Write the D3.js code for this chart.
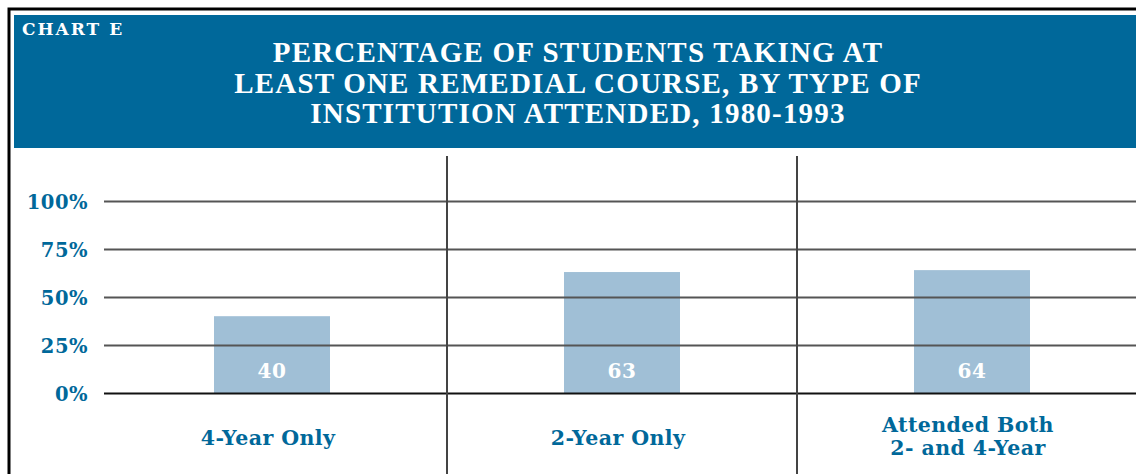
<!DOCTYPE html>
<html>
<head>
<meta charset="utf-8">
<script src="https://cdn.jsdelivr.net/npm/d3@7"></script>
<style>
  body { margin: 0; background: #fff; }
  svg { display: block; }
</style>
</head>
<body>
<div id="chart"></div>
<script>
"use strict"
// Data
var categories = ["4-Year Only", "2-Year Only", "Attended Both\n2- and 4-Year"];
var values = [40, 63, 64];
var yTicks = [0, 25, 50, 75, 100];
var chartLabel = "CHART E";
var titleLines = [
    "PERCENTAGE OF STUDENTS TAKING AT",
    "LEAST ONE REMEDIAL COURSE, BY TYPE OF",
    "INSTITUTION ATTENDED, 1980-1993"
];

var width = 1136;
var height = 474;
var blue = "#00689a";
var barColor = "#a0bfd6";
var serifWide = "'DejaVu Serif', serif";
var serifTitle = "'Liberation Serif', 'Times New Roman', serif";

var svg = d3.select("#chart").append("svg")
    .attr("width", width)
    .attr("height", height);

// Header band
svg.append("rect")
    .attr("x", 14).attr("y", 15)
    .attr("width", width - 14).attr("height", 133)
    .attr("fill", blue);

svg.append("text")
    .attr("x", 22).attr("y", 35)
    .attr("fill", "#fff")
    .style("font-family", serifWide)
    .style("font-weight", "bold")
    .style("font-size", "17px")
    .style("letter-spacing", "2px")
    .text(chartLabel);

svg.selectAll(".title").data(titleLines).enter()
    .append("text").attr("class", "title")
    .attr("x", 578)
    .attr("y", function (d, i) { return 62 + i * 30.5 })
    .attr("text-anchor", "middle")
    .attr("fill", "#fff")
    .style("font-family", serifTitle)
    .style("font-weight", "bold")
    .style("font-size", "29px")
    .style("letter-spacing", "1.2px")
    .text(function (d) { return d });

// Scales
var xScale = d3.scaleBand().domain(categories).range([97, 1147]);
var yScale = d3.scaleLinear().domain([0, 100]).range([393, 201]);
var barWidth = 116;

// Bars (drawn first so the grid sits on top)
svg.selectAll(".bar").data(values).enter()
    .append("rect").attr("class", "bar")
    .attr("x", function (d, i) { return xScale(categories[i]) + xScale.bandwidth() / 2 - barWidth / 2 })
    .attr("y", function (d) { return yScale(d) })
    .attr("width", barWidth)
    .attr("height", function (d) { return yScale(0) - yScale(d) })
    .attr("fill", barColor);

// Horizontal grid
var yAxis = d3.axisLeft(yScale)
    .tickValues(yTicks)
    .tickSize(-(width - 104))
    .tickPadding(16)
    .tickFormat(function (d) { return d + "%" });

var gy = svg.append("g")
    .attr("transform", "translate(104,0)")
    .call(yAxis);
gy.select(".domain").remove();
gy.selectAll(".tick line")
    .attr("stroke", function (d) { return d === 0 ? "#111" : "#555" })
    .attr("stroke-width", 2);
gy.selectAll(".tick text")
    .attr("fill", blue)
    .attr("dy", "0.38em")
    .style("font-family", serifWide)
    .style("font-weight", "bold")
    .style("font-size", "19.5px")
    .style("letter-spacing", "0.5px");

// Vertical dividers between categories
svg.selectAll(".divider").data(categories.slice(0, -1)).enter()
    .append("line").attr("class", "divider")
    .attr("x1", function (d) { return xScale(d) + xScale.step() })
    .attr("x2", function (d) { return xScale(d) + xScale.step() })
    .attr("y1", 156).attr("y2", height)
    .attr("stroke", "#444")
    .attr("stroke-width", 2);

// Value labels
svg.selectAll(".val").data(values).enter()
    .append("text").attr("class", "val")
    .attr("x", function (d, i) { return xScale(categories[i]) + xScale.bandwidth() / 2 })
    .attr("y", 378)
    .attr("text-anchor", "middle")
    .attr("fill", "#fff")
    .style("font-family", serifWide)
    .style("font-weight", "bold")
    .style("font-size", "20px")
    .style("letter-spacing", "0.5px")
    .text(function (d) { return d });

// Category labels
var cat = svg.selectAll(".cat").data(categories).enter()
    .append("text").attr("class", "cat")
    .attr("text-anchor", "middle")
    .attr("fill", blue)
    .style("font-family", serifWide)
    .style("font-weight", "bold")
    .style("font-size", "20.5px")
    .style("letter-spacing", "0.4px");

cat.each(function (d) {
    var lines = d.split("\n");
    var cx = xScale(d) + xScale.bandwidth() / 2 - 4;
    var y0 = lines.length > 1 ? 432 : 445;
    d3.select(this).selectAll("tspan").data(lines).enter()
        .append("tspan")
        .attr("x", cx)
        .attr("y", function (l, i) { return y0 + i * 23 })
        .text(function (l) { return l });
});

// Outer frame (left and top)
svg.append("path")
    .attr("d", "M9," + height + "V9H" + width)
    .attr("fill", "none")
    .attr("stroke", "#000")
    .attr("stroke-width", 3);
</script>
</body>
</html>
